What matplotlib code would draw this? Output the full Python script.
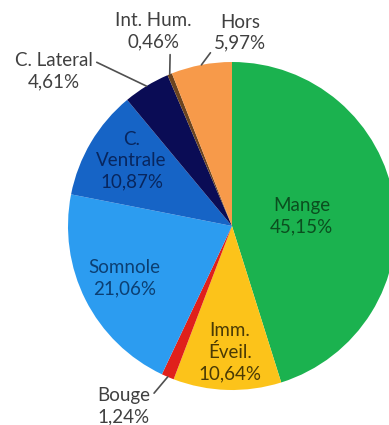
import numpy as np
import matplotlib.pyplot as plt

plt.rcParams['font.family'] = ['Lato', 'DejaVu Sans']

labels = ["Mange", "Imm.\nÉveil.", "Bouge", "Somnole", "C.\nVentrale", "C. Lateral", "Int. Hum.", "Hors"]
values = [45.15, 10.64, 1.24, 21.06, 10.87, 4.61, 0.46, 5.97]
pct_text = ["45,15%", "10,64%", "1,24%", "21,06%", "10,87%", "4,61%", "0,46%", "5,97%"]

colors = ["#1bb24f", "#fcc31a", "#e0201b", "#2c9cf0", "#1664c6", "#0a0c55", "#6b4420", "#f79a4a"]
text_colors = ["#0b4e1f", "#4a3a05", "#404040", "#0c3f72", "#08265e", "#404040", "#404040", "#404040"]
# (inside?, distance as fraction of radius, angle in degrees) for each label
label_pos = [(True, 0.43, 8), (True, 0.77, -91), (False, 1.28, -121), (True, 0.73, -154),
             (True, 0.73, 147), (False, 1.44, 139), (False, 1.28, 112), (False, 1.18, 87.6)]
# where the leader leaves the label box
leader_rel = [None, None, (1.0, 0.72), None, None, (1.0, 0.78), (0.72, 0.0), (0.0, 0.1)]

W, H = 389, 425
fig = plt.figure(figsize=(W / 100, H / 100), dpi=100)
ax = fig.add_axes([0, 0, 1, 1])

cx, cy, r = 232, H - 226, 164
wedges, _ = ax.pie(values, colors=colors, startangle=90, counterclock=False,
                   center=(cx, cy), radius=r, frame=True,
                   wedgeprops=dict(linewidth=0))
ax.set_xlim(0, W)
ax.set_ylim(0, H)
ax.set_aspect('equal')
ax.axis('off')

for w, lab, pct, tc, (inside, d, ang), rel in zip(wedges, labels, pct_text, text_colors,
                                                  label_pos, leader_rel):
    a = np.deg2rad(ang)
    tx, ty = cx + d * r * np.cos(a), cy + d * r * np.sin(a)
    s = lab + "\n" + pct
    if inside:
        ax.text(tx, ty, s, ha='center', va='center', color=tc, fontsize=13.5, linespacing=1.3)
    else:
        mid = np.deg2rad((w.theta1 + w.theta2) / 2)
        ex, ey = cx + r * np.cos(mid), cy + r * np.sin(mid)
        ax.annotate(s, xy=(ex, ey), xytext=(tx, ty), ha='center', va='center',
                    color=tc, fontsize=13.5, linespacing=1.3,
                    arrowprops=dict(arrowstyle='-', color='#505050', lw=1.2,
                                    relpos=rel, shrinkA=1, shrinkB=0))

fig.savefig("out.png", dpi=100)
